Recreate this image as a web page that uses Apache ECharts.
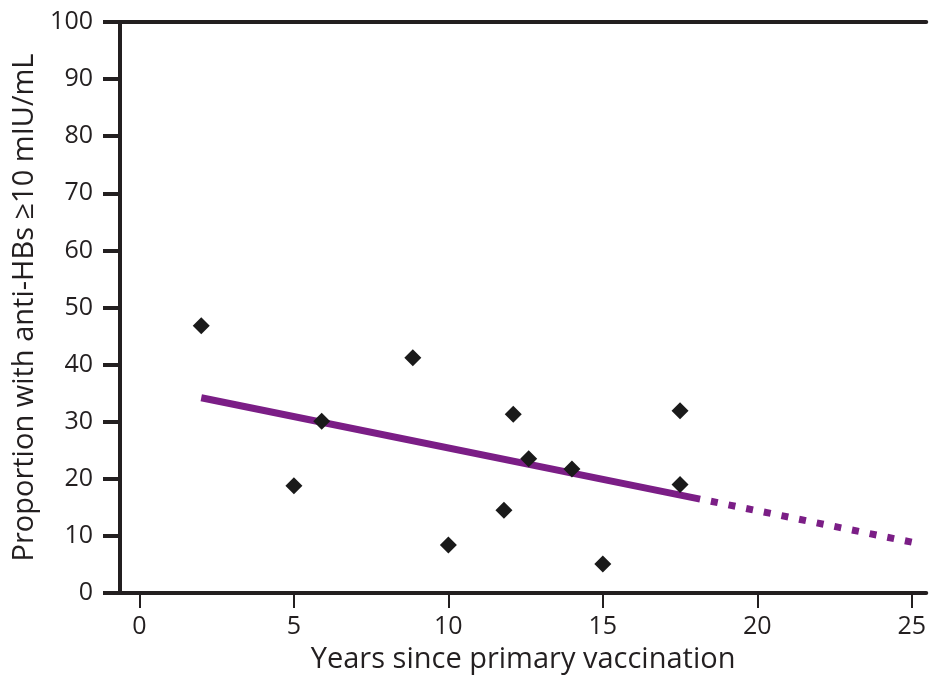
<!DOCTYPE html>
<html>
<head>
<meta charset="utf-8">
<script src="https://cdn.jsdelivr.net/npm/echarts@6/dist/echarts.min.js"></script>
<style>
html,body{margin:0;padding:0;background:#fff;}
#chart{width:929px;height:683px;}
</style>
</head>
<body>
<div id="chart"></div>
<script>
// Observed data points: [years since primary vaccination, proportion %]
var yearsObserved = [2.0, 5.0, 5.9, 8.85, 10.0, 11.8, 12.1, 12.6, 14.0, 15.0, 17.5, 17.5];
var proportionObserved = [46.8, 18.8, 30.1, 41.2, 8.4, 14.5, 31.3, 23.5, 21.7, 5.1, 31.9, 19.0];

// Fitted trend: solid within data range, dotted extrapolation
var fitSolidX = [2.0, 18.15];
var fitSolidY = [34.2, 16.45];
var fitDottedX = [18.15, 25.0];
var fitDottedY = [16.45, 8.9];

// Axis tick labels
var xTickValues = [0, 5, 10, 15, 20, 25];
var yTickValues = [0, 10, 20, 30, 40, 50, 60, 70, 80, 90, 100];

function zip(a, b) { return a.map(function (v, i) { return [v, b[i]]; }); }

var ink = '#231f20';
var purple = '#7b1e86';
var font = '"Open Sans", "Noto Sans", sans-serif';

var chart = echarts.init(document.getElementById('chart'), null, {renderer: 'canvas'});
chart.setOption({
  animation: false,
  backgroundColor: '#ffffff',
  grid: {left: 120, right: 0, top: 22, bottom: 90, containLabel: false},
  xAxis: [{
    type: 'value',
    min: -0.63,
    max: 25.47,
    position: 'bottom',
    name: 'Years since primary vaccination',
    nameLocation: 'middle',
    nameGap: 52,
    nameTextStyle: {color: ink, fontSize: 29, fontFamily: font},
    axisLine: {show: true, onZero: false, lineStyle: {color: ink, width: 4}},
    axisTick: {show: true, customValues: xTickValues, length: 15, lineStyle: {color: ink, width: 2}},
    axisLabel: {customValues: xTickValues, margin: 21, color: ink, fontSize: 25, fontFamily: font},
    splitLine: {show: false}
  }, {
    type: 'value',
    min: -0.63,
    max: 25.47,
    position: 'top',
    axisLine: {show: true, onZero: false, lineStyle: {color: ink, width: 4}},
    axisTick: {show: false},
    axisLabel: {show: false},
    splitLine: {show: false}
  }],
  yAxis: {
    type: 'value',
    min: 0,
    max: 100,
    interval: 10,
    name: 'Proportion with anti-HBs \u226510 mIU/mL',
    nameLocation: 'middle',
    nameGap: 71,
    nameTextStyle: {color: ink, fontSize: 29, fontFamily: font},
    axisLine: {show: true, onZero: false, lineStyle: {color: ink, width: 4}},
    axisTick: {show: true, length: 17, lineStyle: {color: ink, width: 4}},
    axisLabel: {margin: 27, color: ink, fontSize: 25, fontFamily: font,
      formatter: function (v) { return yTickValues.indexOf(v) >= 0 ? String(v) : ''; }},
    splitLine: {show: false}
  },
  series: [{
    type: 'line',
    data: zip(fitSolidX, fitSolidY),
    symbol: 'none',
    lineStyle: {color: purple, width: 7, cap: 'butt'},
    z: 2
  }, {
    type: 'line',
    data: zip(fitDottedX, fitDottedY),
    symbol: 'none',
    lineStyle: {color: purple, width: 7, type: [7, 11], dashOffset: 7, cap: 'butt'},
    z: 2
  }, {
    type: 'scatter',
    data: zip(yearsObserved, proportionObserved),
    symbol: 'diamond',
    symbolSize: 17,
    itemStyle: {color: '#1a1a1a', opacity: 1},
    z: 3
  }]
});
</script>
</body>
</html>
